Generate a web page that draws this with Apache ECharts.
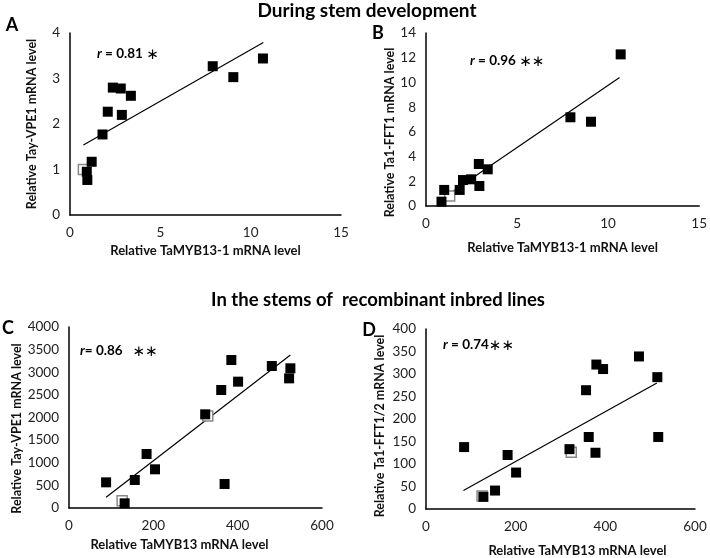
<!DOCTYPE html>
<html>
<head>
<meta charset="utf-8">
<script src="https://cdn.jsdelivr.net/npm/echarts@6/dist/echarts.min.js"></script>
<style>
  html, body { margin: 0; background: #fff; }
  #chart { width: 710px; height: 558px; }
</style>
</head>
<body>
<div id="chart"></div>
<script>
// A: TaMYB13-1 vs Tay-VPE1 (stem development)
const aX = [0.96, 0.93, 1.2, 1.8, 2.09, 2.37, 2.81, 2.87, 3.37, 7.9, 9.04, 10.68];
const aY = [0.77, 0.95, 1.17, 1.77, 2.27, 2.8, 2.78, 2.2, 2.62, 3.27, 3.03, 3.44];
const aHollow = [[0.74, 1.0]];
const aTrend = [[0.74, 1.54], [10.7, 3.79]];

// B: TaMYB13-1 vs Ta1-FFT1 (stem development)
const bX = [10.69, 7.93, 9.06, 2.9, 3.39, 2.48, 2.03, 2.93, 1.85, 1.0, 0.85];
const bY = [12.27, 7.18, 6.82, 3.4, 2.97, 2.16, 2.1, 1.62, 1.3, 1.3, 0.35];
const bHollow = [[1.3, 0.8]];
const bTrend = [[0.64, 0.35], [10.63, 10.4]];

// C: TaMYB13 vs Tay-VPE1 (RILs)
const cX = [88, 132, 156, 184, 204, 323, 361, 369, 385, 401, 481, 525, 522];
const cY = [567, 103, 619, 1193, 855, 2070, 2608, 530, 3270, 2792, 3138, 3087, 2865];
const cHollow = [[126, 161], [329, 2033]];
const cTrend = [[88, 236], [525, 3381]];

// D: TaMYB13 vs Ta1-FFT1/2 (RILs)
const dX = [85, 128, 154, 182, 201, 320, 357, 363, 380, 378, 395, 475, 516, 518];
const dY = [137.6, 27, 41, 120, 81, 133, 264, 160, 321, 125, 311, 339, 293, 160];
const dHollow = [[125, 29], [324, 126]];
const dTrend = [[83.5, 41], [515, 280]];

const FONT = 'Lato, "Open Sans", sans-serif';

function zip(xs, ys) {
  return xs.map((x, i) => [x, ys[i]]);
}

function xAx(idx, max, interval, name, gap, pad) {
  return {
    gridIndex: idx, type: 'value', min: 0, max: max, interval: interval,
    name: name, nameLocation: 'middle', nameGap: gap,
    nameTextStyle: { fontFamily: FONT, fontWeight: 'bold', fontSize: 13, color: '#111', padding: pad || 0 },
    axisLine: { lineStyle: { color: '#000', width: 1.5 } },
    axisTick: { show: false },
    splitLine: { show: false },
    axisLabel: { fontFamily: FONT, fontSize: 13.5, color: '#222', margin: 11 }
  };
}

function yAx(idx, max, interval, name, gap, pad) {
  return {
    gridIndex: idx, type: 'value', min: 0, max: max, interval: interval,
    name: name, nameLocation: 'middle', nameGap: gap,
    nameTextStyle: { fontFamily: FONT, fontWeight: 'bold', fontSize: 12.5, color: '#111', padding: pad || 0 },
    axisLine: { show: true, lineStyle: { color: '#000', width: 1.5 } },
    axisTick: { show: false },
    splitLine: { show: false },
    axisLabel: { fontFamily: FONT, fontSize: 13.5, color: '#222', margin: 10, formatter: v => String(v) }
  };
}

function panelSeries(idx, pts, hollow, trend) {
  return [
    {
      type: 'line', xAxisIndex: idx, yAxisIndex: idx, data: trend,
      symbol: 'none', lineStyle: { color: '#000', width: 1.2 }, z: 1, silent: true
    },
    {
      type: 'scatter', xAxisIndex: idx, yAxisIndex: idx, data: hollow,
      symbol: 'rect', symbolSize: 10,
      itemStyle: { color: '#fff', borderColor: '#888', borderWidth: 1.5, opacity: 1 }, z: 2
    },
    {
      type: 'scatter', xAxisIndex: idx, yAxisIndex: idx, data: pts,
      symbol: 'rect', symbolSize: 10,
      itemStyle: { color: '#000', opacity: 1 }, z: 3
    }
  ];
}

// r value label: italic r, bold value, larger asterisks
function rLabel(x, y, text, stars) {
  return {
    type: 'text', x: x, y: y,
    style: {
      text: '{i|r}{b|' + text + '}{s|' + stars + '}',
      fill: '#000',
      textVerticalAlign: 'middle',
      rich: {
        i: { fontFamily: FONT, fontStyle: 'italic', fontWeight: 'bold', fontSize: 13.5 },
        b: { fontFamily: FONT, fontWeight: 'bold', fontSize: 13.5 },
        s: { fontFamily: '"DejaVu Sans", sans-serif', fontSize: 15, padding: [3, 0, 0, 0] }
      }
    }
  };
}

function txt(x, y, text, size, align) {
  return {
    type: 'text', x: x, y: y,
    style: {
      text: text, fill: '#000', textAlign: align || 'center', textVerticalAlign: 'middle',
      font: 'bold ' + size + 'px ' + FONT
    }
  };
}

const chart = echarts.init(document.getElementById('chart'));

chart.setOption({
  animation: false,
  backgroundColor: '#fff',
  grid: [
    { left: 70, top: 33, width: 271, height: 182 },
    { left: 426, top: 33, width: 276, height: 173 },
    { left: 69, top: 327, width: 253, height: 181 },
    { left: 426, top: 329, width: 269, height: 187 }
  ],
  xAxis: [
    xAx(0, 15, 5, 'Relative TaMYB13-1 mRNA level', 29),
    xAx(1, 15, 5, 'Relative TaMYB13-1 mRNA level', 35),
    xAx(2, 600, 200, 'Relative TaMYB13 mRNA level', 30, [0, 32, 0, 0]),
    xAx(3, 600, 200, 'Relative TaMYB13 mRNA level', 35, [0, 0, 0, 34])
  ],
  yAxis: [
    yAx(0, 4, 1, 'Relative Tay-VPE1 mRNA level', 32),
    yAx(1, 14, 2, 'Relative Ta1-FFT1 mRNA level', 30, [0, 26, 0, 0]),
    yAx(2, 4000, 500, 'Relative Tay-VPE1 mRNA level', 43, [0, 22, 0, 0]),
    yAx(3, 400, 50, 'Relative Ta1-FFT1/2 mRNA level', 40, [0, 14, 0, 0])
  ],
  series: [].concat(
    panelSeries(0, zip(aX, aY), aHollow, aTrend),
    panelSeries(1, zip(bX, bY), bHollow, bTrend),
    panelSeries(2, zip(cX, cY), cHollow, cTrend),
    panelSeries(3, zip(dX, dY), dHollow, dTrend)
  ),
  graphic: [
    txt(367, 11, 'During stem development', 19),
    txt(378, 300, 'In the stems of  recombinant inbred lines', 18.5),
    txt(12, 25, 'A', 18),
    txt(378, 33, 'B', 18),
    txt(8, 328, 'C', 18),
    txt(369, 330, 'D', 18),
    rLabel(97, 54, ' = 0.81 ', '∗'),
    rLabel(470, 61, ' = 0.96 ', '∗∗'),
    rLabel(80, 351, '= 0.86   ', '∗∗'),
    rLabel(443, 345, ' = 0.74', '∗∗')
  ]
});
</script>
</body>
</html>
